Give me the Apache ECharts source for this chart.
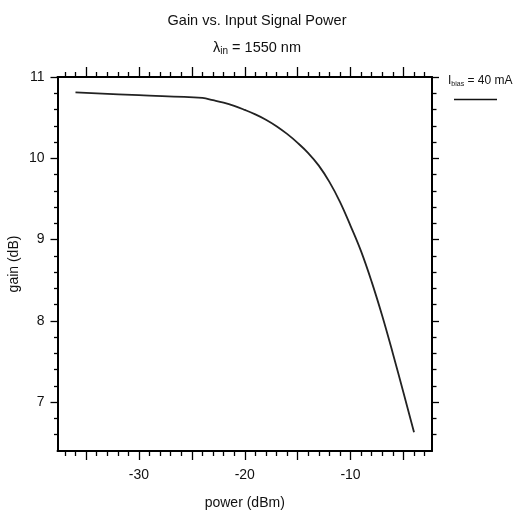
<!DOCTYPE html>
<html>
<head>
<meta charset="utf-8">
<script src="https://cdn.jsdelivr.net/npm/echarts@6/dist/echarts.min.js"></script>
<style>
html,body{margin:0;padding:0;background:#fff;}
#c{width:514px;height:515px;}
</style>
</head>
<body>
<div id="c"></div>
<script>
// ---- data ----
const powerDbm = [-36, -30, -24, -23, -22, -21, -20, -19, -18, -17, -16, -15, -14, -13, -12, -11, -10, -9, -8, -7, -6, -5, -4];
const gainDb   = [10.81, 10.776, 10.742, 10.715, 10.685, 10.645, 10.595, 10.54, 10.475, 10.395, 10.30, 10.19, 10.065, 9.91, 9.71, 9.465, 9.17, 8.855, 8.48, 8.06, 7.60, 7.12, 6.63];

const X_MIN = -37.7, X_MAX = -2.3;
const Y_MIN = 6.4, Y_MAX = 11;
const xLabelTicks = [-30, -20, -10];
const xMidTicks = [-35, -30, -25, -20, -15, -10, -5];
const xMinorTicks = [-37,-36,-34,-33,-32,-31,-29,-28,-27,-26,-24,-23,-22,-21,-19,-18,-17,-16,-14,-13,-12,-11,-9,-8,-7,-6,-4,-3];
const yLabelTicks = [7, 8, 9, 10, 11];
const yMinorTicks = [6.6, 6.8, 7.2, 7.4, 7.6, 7.8, 8.2, 8.4, 8.6, 8.8, 9.2, 9.4, 9.6, 9.8, 10.2, 10.4, 10.6, 10.8];

const FONT = "'Liberation Sans Narrow', 'Liberation Sans', Arial, sans-serif";

function xAx(pos, ticks, len, opts) {
  return Object.assign({
    type: 'value', position: pos, min: X_MIN, max: X_MAX,
    axisLine: { show: false },
    axisTick: { show: true, customValues: ticks, length: len, inside: false, lineStyle: { color: '#000', width: 1.3 } },
    axisLabel: { show: false },
    splitLine: { show: false }
  }, opts || {});
}
function yAx(pos, ticks, len, opts) {
  return Object.assign({
    type: 'value', position: pos, min: Y_MIN, max: Y_MAX,
    axisLine: { show: false },
    axisTick: { show: true, customValues: ticks, length: len, inside: false, lineStyle: { color: '#000', width: 1.3 } },
    axisLabel: { show: false },
    splitLine: { show: false }
  }, opts || {});
}

const chart = echarts.init(document.getElementById('c'), null, { renderer: 'canvas' });
chart.setOption({
  backgroundColor: '#fff',
  animation: false,
  title: {
    text: 'Gain vs. Input Signal Power',
    left: 'center', top: 8,
    textStyle: { fontFamily: FONT, fontSize: 14.5, fontWeight: 'normal', color: '#111' }
  },
  grid: { left: 57.5, right: 82, top: 77, bottom: 64, containLabel: false, outerBoundsMode: 'none' },
  xAxis: [
    xAx('bottom', xMidTicks, 9, {
      axisLine: { show: true, onZero: false, lineStyle: { color: '#000', width: 2 } },
      axisLabel: { show: true, customValues: xLabelTicks, margin: 17, fontFamily: FONT, fontSize: 14, color: '#111' },
      name: 'power (dBm)', nameLocation: 'middle', nameGap: 45, nameMoveOverlap: false,
      nameTextStyle: { fontFamily: FONT, fontSize: 14, color: '#111' }
    }),
    xAx('bottom', xMinorTicks, 5),
    xAx('top', xMidTicks, 10, {
      axisLine: { show: true, onZero: false, lineStyle: { color: '#000', width: 2 } }
    }),
    xAx('top', xMinorTicks, 5)
  ],
  yAxis: [
    yAx('left', yLabelTicks, 7, {
      axisLine: { show: true, onZero: false, lineStyle: { color: '#000', width: 2 } },
      axisLabel: { show: true, customValues: yLabelTicks, margin: 13, fontFamily: FONT, fontSize: 14, color: '#111' },
      name: 'gain (dB)', nameLocation: 'middle', nameGap: 36, nameMoveOverlap: false,
      nameTextStyle: { fontFamily: FONT, fontSize: 14, color: '#111' }
    }),
    yAx('left', yMinorTicks, 3.5),
    yAx('right', yLabelTicks, 7, {
      axisLine: { show: true, onZero: false, lineStyle: { color: '#000', width: 2 } }
    }),
    yAx('right', yMinorTicks, 4.5)
  ],
  series: [{
    type: 'line',
    name: 'Ibias = 40 mA',
    xAxisIndex: 0, yAxisIndex: 0,
    data: powerDbm.map((p, i) => [p, gainDb[i]]),
    smooth: 0.4,
    showSymbol: false,
    lineStyle: { color: '#222', width: 1.8 }
  }],
  graphic: [
    {
      type: 'text', left: 'center', top: 40,
      style: {
        text: '{l|λ}{s|in}{l| = 1550 nm}',
        rich: {
          l: { fontFamily: FONT, fontSize: 14.5, fill: '#111' },
          s: { fontFamily: FONT, fontSize: 10, fill: '#111', padding: [8, 0, 0, 0] }
        }
      }
    },
    {
      type: 'text', left: 448, top: 75,
      style: {
        text: '{l|I}{s|bias}{l| = 40 mA}',
        rich: {
          l: { fontFamily: FONT, fontSize: 12, fill: '#111' },
          s: { fontFamily: FONT, fontSize: 7, fill: '#111', padding: [6, 0, 0, 0] }
        }
      }
    },
    {
      type: 'line',
      shape: { x1: 454, y1: 99.5, x2: 497, y2: 99.5 },
      style: { stroke: '#111', lineWidth: 1.5 }
    }
  ]
});
</script>
</body>
</html>
